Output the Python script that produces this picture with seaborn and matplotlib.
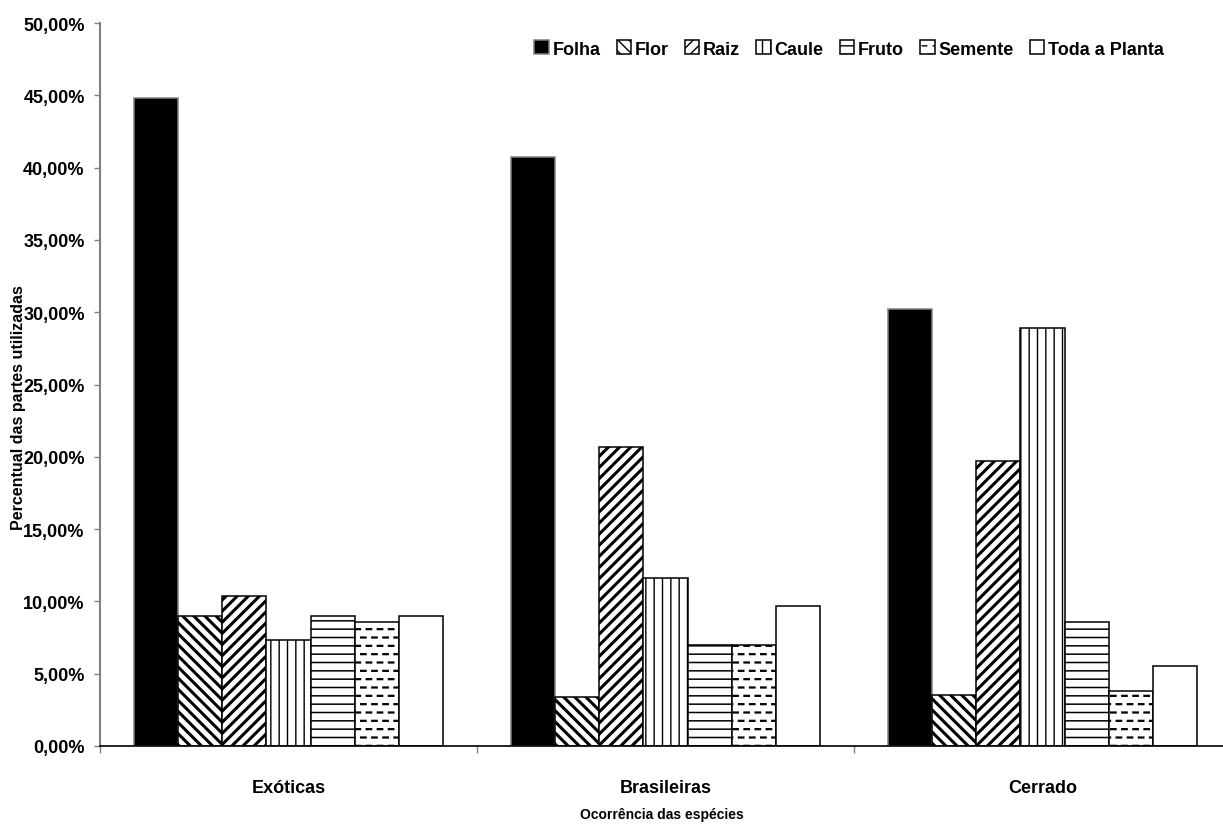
import numpy as np
import pandas as pd
import matplotlib
matplotlib.use("Agg")
import matplotlib.pyplot as plt
import matplotlib.hatch as mhatch
from matplotlib.path import Path
from matplotlib.ticker import FixedLocator
import seaborn as sns

# ---------------- data ----------------
categories = ["Exóticas", "Brasileiras", "Cerrado"]
parts = ["Folha", "Flor", "Raiz", "Caule", "Fruto", "Semente", "Toda a Planta"]
folha = [44.8, 40.7, 30.2]
flor = [9.0, 3.4, 3.5]
raiz = [10.4, 20.7, 19.7]
caule = [7.3, 11.6, 28.9]
fruto = [9.0, 7.0, 8.6]
semente = [8.6, 7.0, 3.8]
toda_planta = [9.0, 9.7, 5.5]
ytick_values = [0, 5, 10, 15, 20, 25, 30, 35, 40, 45, 50]
ytick_labels = ["0,00%", "5,00%", "10,00%", "15,00%", "20,00%", "25,00%",
                "30,00%", "35,00%", "40,00%", "45,00%", "50,00%"]

series = [folha, flor, raiz, caule, fruto, semente, toda_planta]
rows = []
for part, vals in zip(parts, series):
    for cat, v in zip(categories, vals):
        rows.append({"Ocorrência": cat, "Parte": part, "Valor": v})
df = pd.DataFrame(rows)


# -------- custom dashed hatch (replaces the 'O' large-circle pattern) --------
class DashHatch(mhatch.HatchPatternBase):
    def __init__(self, hatch, density):
        n = hatch.count('O')
        self.nrows = 12 * n
        self.ncols = 9 * n
        self.num_vertices = self.nrows * self.ncols * 2

    def set_vertices_and_codes(self, vertices, codes):
        k = 0
        dash = 0.045
        for i in range(self.nrows):
            y = (i + 0.5) / self.nrows
            off = 0.0 if i % 2 == 0 else 0.5
            for j in range(self.ncols):
                x0 = (j + off) / self.ncols
                vertices[k] = (x0, y)
                vertices[k + 1] = (x0 + dash, y)
                codes[k] = Path.MOVETO
                codes[k + 1] = Path.LINETO
                k += 2


mhatch._hatch_types = [t for t in mhatch._hatch_types
                       if t is not mhatch.LargeCircles] + [DashHatch]

# ---------------- style ----------------
sns.set_theme(style="white")
plt.rcParams['font.family'] = ['Liberation Sans Narrow', 'Liberation Sans', 'DejaVu Sans']
plt.rcParams['font.weight'] = 'bold'
plt.rcParams['hatch.color'] = 'black'
plt.rcParams['text.color'] = 'black'
plt.rcParams['axes.labelcolor'] = 'black'
plt.rcParams['xtick.color'] = 'black'
plt.rcParams['ytick.color'] = 'black'

fig = plt.figure(figsize=(12.23, 8.29), dpi=100)
ax = fig.add_axes([100 / 1223, 82 / 829, 1123 / 1223, 723 / 829])

palette = {p: "white" for p in parts}
palette["Folha"] = "black"

sns.barplot(data=df, x="Ocorrência", y="Valor", hue="Parte",
            order=categories, hue_order=parts, palette=palette,
            width=0.82, saturation=1, edgecolor="black", linewidth=1.1,
            legend=False, ax=ax)

hatches = [None, "\\\\\\", "///", "||", "--", "O", None]
hatch_lw = [1, 2.2, 2.2, 1.0, 1.1, 1.6, 1]
for cont, h, hlw in zip(ax.containers, hatches, hatch_lw):
    for bar in cont.patches:
        bar.set_hatch(h)
        try:
            bar.set_hatch_linewidth(hlw)
        except Exception:
            pass
        if h is None and bar.get_facecolor()[0] < 0.5:
            bar.set_edgecolor("#808080")

ax.set_xlim(-0.5, -0.5 + 1123 / 377)
ax.set_ylim(0, 50)
ax.set_yticks(ytick_values)
ax.set_yticklabels(ytick_labels, fontsize=13, fontweight='bold')
ax.tick_params(axis='y', direction='out', length=4, width=1, color='#808080',
               labelcolor='black', pad=7, left=True)

ax.set_xticks(range(len(categories)))
ax.set_xticklabels(categories, fontsize=13, fontweight='bold')
ax.tick_params(axis='x', which='major', length=0, pad=24, labelcolor='black')
ax.xaxis.set_minor_locator(FixedLocator([-0.5, 0.5, 1.5]))
ax.tick_params(axis='x', which='minor', direction='out', length=5, width=1,
               color='#808080', bottom=True)

for s in ["top", "right"]:
    ax.spines[s].set_visible(False)
ax.spines["left"].set_color("#808080")
ax.spines["left"].set_linewidth(1.5)
ax.spines["bottom"].set_color("black")
ax.spines["bottom"].set_linewidth(1.2)

ax.set_xlabel("Ocorrência das espécies", fontsize=10, fontweight='bold', labelpad=8)
ax.set_ylabel("Percentual das partes utilizadas", fontsize=11.5, fontweight='bold')
ax.yaxis.set_label_coords(-0.066, 0.47)

leg = ax.legend(ax.containers, parts, loc="center",
                bbox_to_anchor=(849 / 1223, 1 - 50 / 829),
                bbox_transform=fig.transFigure, ncol=7, frameon=False,
                handlelength=0.8, handleheight=0.8, handletextpad=0.2,
                columnspacing=0.9, prop={'size': 13, 'weight': 'bold'})

fig.savefig("out.png", dpi=100, facecolor="white")
